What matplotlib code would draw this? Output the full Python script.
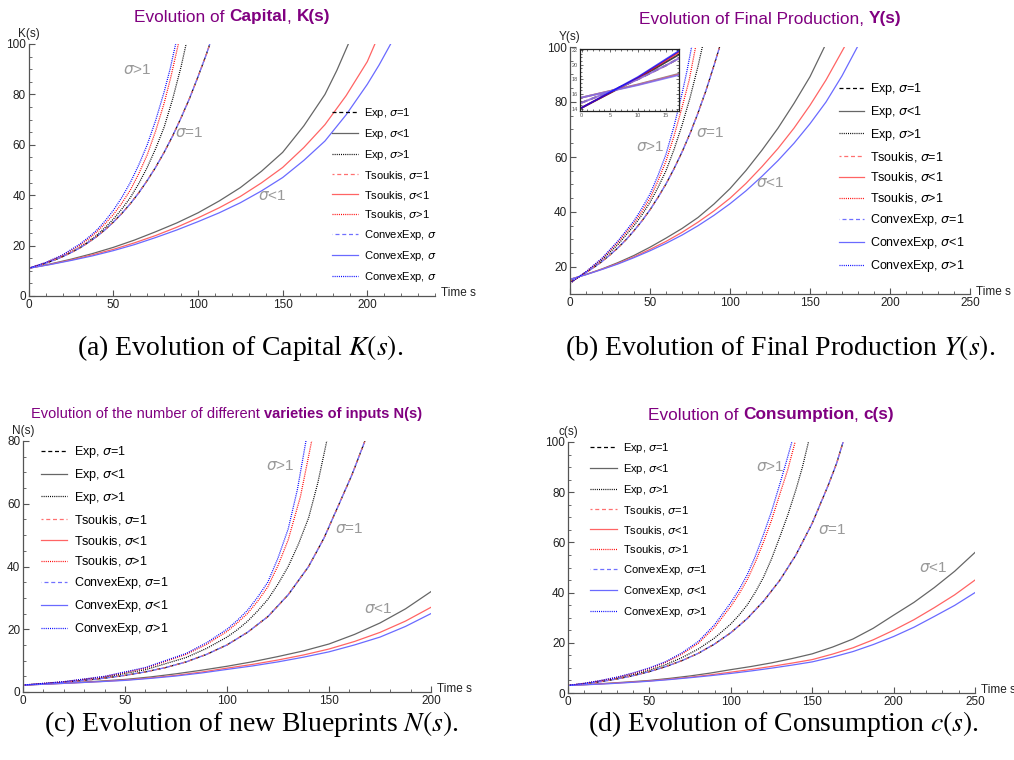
import numpy as np
import matplotlib.pyplot as plt
from matplotlib.ticker import MultipleLocator

plt.rcParams['font.family'] = ['Liberation Sans', 'DejaVu Sans']
plt.rcParams['mathtext.fontset'] = 'dejavusans'

# ---------------- data ----------------
# (a) Capital K(s)
a_s_eq = [0, 5, 10, 15, 20, 25, 30, 35, 40, 45, 50, 55, 60, 65, 70, 75, 80, 85, 90, 95, 100, 105, 107]
a_eq = [11, 11.96, 13, 14.24, 15.6, 17.22, 19, 21.13, 23.5, 26.24, 29.3, 32.75, 36.6, 40.94,
        45.8, 51.1, 57, 63.5, 70.7, 78.4, 87, 96, 100]
a_s_hi_exp = [0, 10, 20, 30, 35, 40, 45, 50, 55, 60, 65, 70, 75, 80, 85, 90, 93]
a_hi_exp = [11, 13, 15.6, 19.2, 21.5, 24, 27.1, 30.5, 34.5, 39, 44.6, 51, 58.5, 67, 78.1, 91, 100]
a_s_hi_tsk = [0, 10, 20, 30, 35, 40, 45, 50, 55, 60, 65, 70, 75, 80, 84, 88.4]
a_hi_tsk = [11, 13.2, 16.1, 20, 22.5, 25.3, 28.6, 32.3, 36.8, 42, 48.5, 56, 65.5, 76.5, 87, 100]
a_s_hi_cvx = [0, 10, 20, 30, 35, 40, 45, 50, 55, 60, 65, 70, 75, 80, 83.5, 86.8]
a_hi_cvx = [11, 13.3, 16.3, 20.5, 23.1, 26, 29.7, 34, 39.1, 45, 52, 60, 69.7, 81, 90, 100]
a_s_lo_exp = [0, 12.5, 25, 37.5, 50, 62.5, 75, 87.5, 100, 112.5, 125, 137.5, 150, 162.5, 175, 182, 188.8]
a_lo_exp = [11, 12.67, 14.6, 16.8, 19.3, 22.2, 25.5, 29, 33, 37.7, 43, 49.5, 57, 67.5, 80, 89.5, 100]
a_s_lo_tsk = [0, 12.5, 25, 37.5, 50, 62.5, 75, 87.5, 100, 112.5, 125, 137.5, 150, 162.5, 175,
              187.5, 200, 204.5]
a_lo_tsk = [11, 12.54, 14.3, 16.3, 18.5, 21.1, 24, 27.3, 31, 35, 39.5, 44.9, 51, 58.9, 68, 79.5, 93, 100]
a_s_lo_cvx = [0, 12.5, 25, 37.5, 50, 62.5, 75, 87.5, 100, 112.5, 125, 137.5, 150, 162.5, 175,
              187.5, 200, 207, 213.8]
a_lo_cvx = [11, 12.45, 14.1, 15.9, 18, 20.4, 23.2, 26.2, 29.5, 33, 37, 41.7, 47, 53.8, 61.5, 71.9,
            84, 91.7, 100]

# (b) Final production Y(s)
b_s_eq = [0, 5, 10, 15, 20, 25, 30, 35, 40, 45, 50, 55, 60, 65, 70, 75, 80, 85, 90, 93.5]
b_eq = [14.8, 16.3, 18, 19.9, 22, 24.4, 27, 29.9, 33.2, 36.8, 40.8, 45.3, 50.2, 55.7, 61.8, 68.5,
        76, 84.2, 93.3, 100]
b_s_hi_exp = [0, 10, 20, 30, 40, 45, 50, 55, 60, 65, 70, 75, 80, 82.7]
b_hi_exp = [14.1, 18.1, 22.6, 28.2, 35, 39, 43.5, 48.9, 55, 62.7, 71.5, 81.5, 93, 100]
b_s_hi_tsk = [0, 10, 20, 30, 40, 45, 50, 55, 60, 65, 70, 74.5, 78.5]
b_hi_tsk = [14.1, 18.2, 23, 29, 36, 40.2, 45, 51.3, 58.5, 67.6, 78, 88, 100]
b_s_hi_cvx = [0, 10, 20, 30, 40, 45, 50, 55, 60, 65, 70, 73, 76]
b_hi_cvx = [14.1, 18.3, 23.2, 29.5, 36.8, 41.4, 46.5, 53.3, 61, 71.2, 83, 91, 100]
b_s_lo_exp = [0, 10, 20, 30, 40, 50, 60, 70, 80, 90, 100, 110, 120, 130, 140, 150, 159]
b_lo_exp = [15.5, 17.3, 19.3, 21.6, 24.2, 27.2, 30.5, 34, 38, 42.9, 48.5, 55.1, 62.5, 70.5, 79.5,
            89.2, 100]
b_s_lo_tsk = [0, 10, 20, 30, 40, 50, 60, 70, 80, 90, 100, 110, 120, 130, 140, 150, 160, 171.5]
b_lo_tsk = [15.5, 17.25, 19.2, 21.3, 23.7, 26.4, 29.3, 32.6, 36.3, 40.4, 45, 50.4, 56.5, 63.1,
            70.5, 78.8, 88, 100]
b_s_lo_cvx = [0, 10, 20, 30, 40, 50, 60, 70, 80, 90, 100, 110, 120, 130, 140, 150, 160, 170, 179.6]
b_lo_cvx = [15.5, 17.2, 19.1, 21.1, 23.4, 25.9, 28.6, 31.6, 35, 38.8, 43, 47.7, 53, 58.7, 65,
            72.1, 80, 89.5, 100]

# (c) Varieties of inputs N(s)
c_s_eq = [0, 10, 20, 30, 40, 50, 60, 70, 80, 90, 100, 110, 120, 130, 140, 147.5, 155, 161.3, 167.6]
c_eq = [2.2, 2.6, 3.1, 3.7, 4.4, 5.3, 6.4, 7.8, 9.6, 12, 15, 19, 24, 31, 40, 49, 60, 69.3, 80]
c_s_hi_exp = [0, 20, 40, 60, 80, 90, 100, 105, 110, 115, 120, 125, 130, 135, 140, 144.5, 148.9]
c_hi_exp = [2.2, 3.2, 4.7, 7.1, 11, 13.9, 17.5, 19.8, 22.5, 25.8, 29.5, 34.4, 40, 47.1, 55.5, 66.6, 80]
c_s_hi_tsk = [0, 20, 40, 60, 80, 90, 100, 105, 110, 115, 120, 125, 130, 136, 141.5]
c_hi_tsk = [2.2, 3.25, 4.9, 7.6, 12, 15.2, 19.3, 22, 25, 28.9, 33.5, 40.3, 48.5, 62.3, 80]
c_s_hi_cvx = [0, 20, 40, 60, 80, 90, 100, 105, 110, 115, 120, 125, 130, 134.5, 138.7]
c_hi_cvx = [2.2, 3.3, 5, 7.8, 12.3, 15.7, 20, 22.8, 26, 30.2, 35, 42.7, 52, 64.5, 80]
c_s_lo = [0, 12.5, 25, 37.5, 50, 62.5, 75, 87.5, 100, 112.5, 125, 137.5, 150, 162.5, 175, 187.5, 200]
c_lo_exp = [2.2, 2.57, 3.0, 3.46, 4.0, 4.8, 5.8, 6.94, 8.2, 9.64, 11.3, 13.1, 15.3, 18.35, 22, 26.5, 32]
c_lo_tsk = [2.2, 2.53, 2.9, 3.32, 3.8, 4.49, 5.3, 6.35, 7.6, 8.8, 10.2, 11.8, 13.7, 16.1, 19, 22.6, 27]
c_lo_cvx = [2.2, 2.53, 2.9, 3.28, 3.7, 4.34, 5.1, 6.06, 7.2, 8.31, 9.6, 11.1, 12.8, 15, 17.5, 20.9, 25]

# (d) Consumption c(s)
d_s_eq = [0, 10, 20, 30, 40, 50, 60, 70, 80, 90, 100, 110, 120, 130, 140, 150, 160, 165, 169]
d_eq = [3, 3.67, 4.5, 5.57, 6.9, 8.51, 10.5, 12.9, 15.8, 19.5, 24, 29.6, 36.5, 44.8, 55, 67.6,
        83, 91.5, 100]
d_s_hi_exp = [0, 10, 20, 30, 40, 50, 60, 70, 80, 90, 100, 105, 110, 115, 120, 125, 130, 135,
              140, 144, 147.7]
d_hi_exp = [3, 3.75, 4.7, 5.86, 7.3, 9.08, 11.3, 14.1, 17.5, 21.9, 27.5, 31, 35, 40.1, 46, 53.4,
            62, 70.9, 81, 90, 100]
d_s_hi_tsk = [0, 10, 20, 30, 40, 50, 60, 70, 80, 90, 100, 105, 110, 115, 120, 125, 130, 135, 139.5]
d_hi_tsk = [3, 3.83, 4.9, 6.18, 7.8, 9.76, 12.2, 15.5, 19.8, 26.1, 34.5, 39.4, 45, 52, 60, 68.8,
            79, 89, 100]
d_s_hi_cvx = [0, 10, 20, 30, 40, 50, 60, 70, 80, 90, 100, 105, 110, 115, 120, 125, 130, 134, 137.5]
d_hi_cvx = [3, 3.87, 5, 6.32, 8, 10, 12.5, 16, 20.5, 27.2, 36, 41.1, 47, 54.4, 63, 72.3, 83,
            91.9, 100]
d_s_lo = [0, 12.5, 25, 37.5, 50, 62.5, 75, 87.5, 100, 112.5, 125, 137.5, 150, 162.5, 175, 187.5,
          200, 212.5, 225, 237.5, 250]
d_lo_exp = [3, 3.42, 3.9, 4.42, 5.0, 5.83, 6.8, 7.95, 9.3, 10.56, 12, 13.7, 15.6, 18.3, 21.5,
            25.8, 31, 36.1, 42, 48.5, 56]
d_lo_tsk = [3, 3.38, 3.8, 4.27, 4.8, 5.5, 6.3, 7.23, 8.3, 9.38, 10.6, 11.9, 13.3, 15.5, 18, 21.2,
            25, 29.2, 34, 39.1, 45]
d_lo_cvx = [3, 3.33, 3.7, 4.17, 4.7, 5.35, 6.1, 6.9, 7.8, 8.79, 9.9, 11.1, 12.4, 14.3, 16.5,
            19.3, 22.5, 26.2, 30.5, 34.9, 40]

models = ['exp', 'tsk', 'cvx']
model_names = ['Exp', 'Tsoukis', 'ConvexExp']
sigmas = ['eq', 'lo', 'hi']
sigma_txt = {'eq': r'$\sigma$=1', 'lo': r'$\sigma$<1', 'hi': r'$\sigma$>1'}

# ---------------- styles ----------------
dash = (0, (3.2, 2.2))
dot = (0, (0.8, 0.9))
STYLE = {
    ('exp', 'eq'): ('black', dash),
    ('exp', 'lo'): ('#666666', '-'),
    ('exp', 'hi'): ('black', dot),
    ('tsk', 'eq'): ('#ff7070', (1.6, (3.2, 2.2))),
    ('tsk', 'lo'): ('#ff6464', '-'),
    ('tsk', 'hi'): ('#ff0000', dot),
    ('cvx', 'eq'): ('#7070ff', (3.0, (3.2, 2.2))),
    ('cvx', 'lo'): ('#6a6aff', '-'),
    ('cvx', 'hi'): ('#0000ff', dot),
}
PURPLE = '#800080'
W, H = 1014, 760

fig = plt.figure(figsize=(W / 100, H / 100), dpi=100)


def axes_px(left, top, right, bottom):
    return fig.add_axes([left / W, 1 - bottom / H, (right - left) / W, (bottom - top) / H])


def draw_curves(ax, series, lw=0.9, trunc=False, inset=False):
    handles, labs = [], []
    for m, mname in zip(models, model_names):
        for sg in sigmas:
            s, y = series[(m, sg)]
            col, ls = STYLE[(m, sg)]
            if inset:
                # thick inset lines: dots merge into solid strokes
                ls = dash if (m == 'exp' and sg == 'eq') else '-'
                h, = ax.plot(s, y, color=col, ls=ls, lw=lw, alpha=0.75)
            else:
                h, = ax.plot(s, y, color=col, ls=ls, lw=lw)
            handles.append(h)
            if trunc and m == 'cvx':
                labs.append(mname + r', $\sigma$')
            else:
                labs.append(mname + ', ' + sigma_txt[sg])
    return handles, labs


def frame(ax, xmax, ymin, ymax, ylab):
    ax.set_xlim(0, xmax)
    ax.set_ylim(ymin, ymax)
    for sp in ('top', 'right'):
        ax.spines[sp].set_visible(False)
    for sp in ('left', 'bottom'):
        ax.spines[sp].set_color('#555555')
        ax.spines[sp].set_linewidth(0.9)
    ax.xaxis.set_major_locator(MultipleLocator(50))
    ax.xaxis.set_minor_locator(MultipleLocator(10))
    ax.yaxis.set_major_locator(MultipleLocator(20))
    ax.yaxis.set_minor_locator(MultipleLocator(5))
    ax.tick_params(which='major', direction='in', length=4.5, width=0.8,
                   color='#555555', labelsize=8.5, labelcolor='#222222', pad=2)
    ax.tick_params(which='minor', direction='in', length=2.5, width=0.6, color='#555555')
    ax.patch.set_alpha(0)
    ax.text(0, 1.04, ylab, transform=ax.transAxes, ha='center', va='center',
            fontsize=8.5, color='#222222')
    ax.text(1.015, 0.01, 'Time s', transform=ax.transAxes, ha='left', va='center',
            fontsize=8.5, color='#222222')


def legend(ax, handles, labs, x, y, fs, hl, ls):
    ax.legend(handles, labs, loc='upper left', bbox_to_anchor=(x / W, 1 - y / H),
              bbox_transform=fig.transFigure, frameon=False, fontsize=fs,
              handlelength=hl, handletextpad=0.55, labelspacing=ls,
              borderpad=0, borderaxespad=0)


def rich_title(cx, cy, parts, size):
    r = fig.canvas.get_renderer()
    texts, widths = [], []
    for txt, wt in parts:
        t = fig.text(0, 0, txt, fontsize=size, fontweight=wt, color=PURPLE,
                     ha='left', va='center')
        texts.append(t)
        widths.append(t.get_window_extent(r).width)
    x = cx - sum(widths) / 2
    for t, wd in zip(texts, widths):
        t.set_position((x / W, 1 - cy / H))
        x += wd


def sig_note(ax, x, y, txt):
    ax.text(x, y, txt, color='#999999', fontsize=11, ha='center', va='center')


def caption(cx, cy, txt):
    fig.text(cx / W, 1 - cy / H, txt, fontsize=20, ha='center', va='center',
             family=['Liberation Serif', 'DejaVu Serif'], math_fontfamily='stix')


# ---------------- (a) ----------------
ser_a = {
    ('exp', 'eq'): (a_s_eq, a_eq), ('tsk', 'eq'): (a_s_eq, a_eq), ('cvx', 'eq'): (a_s_eq, a_eq),
    ('exp', 'lo'): (a_s_lo_exp, a_lo_exp), ('tsk', 'lo'): (a_s_lo_tsk, a_lo_tsk),
    ('cvx', 'lo'): (a_s_lo_cvx, a_lo_cvx),
    ('exp', 'hi'): (a_s_hi_exp, a_hi_exp), ('tsk', 'hi'): (a_s_hi_tsk, a_hi_tsk),
    ('cvx', 'hi'): (a_s_hi_cvx, a_hi_cvx),
}
axa = axes_px(28.7, 44, 435, 296)
h, l = draw_curves(axa, ser_a, trunc=True)
frame(axa, 240, 0, 100, 'K(s)')
legend(axa, h, l, 331.5, 106, 8, 2.35, 0.62)
sig_note(axa, 64, 89.7, r'$\sigma$>1')
sig_note(axa, 95, 64.7, r'$\sigma$=1')
sig_note(axa, 143.7, 39.7, r'$\sigma$<1')
rich_title(232, 17, [('Evolution of ', 'normal'), ('Capital', 'bold'),
                     (', ', 'normal'), ('K(s)', 'bold')], 12.4)
caption(240, 348, r'(a) Evolution of Capital $K(s)$.')

# ---------------- (b) ----------------
ser_b = {
    ('exp', 'eq'): (b_s_eq, b_eq), ('tsk', 'eq'): (b_s_eq, b_eq), ('cvx', 'eq'): (b_s_eq, b_eq),
    ('exp', 'lo'): (b_s_lo_exp, b_lo_exp), ('tsk', 'lo'): (b_s_lo_tsk, b_lo_tsk),
    ('cvx', 'lo'): (b_s_lo_cvx, b_lo_cvx),
    ('exp', 'hi'): (b_s_hi_exp, b_hi_exp), ('tsk', 'hi'): (b_s_hi_tsk, b_hi_tsk),
    ('cvx', 'hi'): (b_s_hi_cvx, b_hi_cvx),
}
axb = axes_px(570, 47, 970, 294.5)
h, l = draw_curves(axb, ser_b)
frame(axb, 250, 10, 100, 'Y(s)')
legend(axb, h, l, 838.5, 81, 9, 2.0, 0.55)
sig_note(axb, 50, 63.6, r'$\sigma$>1')
sig_note(axb, 87.5, 68.7, r'$\sigma$=1')
sig_note(axb, 125, 50.5, r'$\sigma$<1')
rich_title(770, 19, [('Evolution of Final Production, ', 'normal'), ('Y(s)', 'bold')], 12.4)
caption(780, 348, r'(b) Evolution of Final Production $Y(s)$.')

# inset of (b)
axi = axes_px(580, 49.3, 679, 110.7)
draw_curves(axi, ser_b, lw=1.3, inset=True)
axi.set_xlim(-0.3, 17.3)
axi.set_ylim(13.7, 22.1)
axi.xaxis.set_major_locator(MultipleLocator(5))
axi.xaxis.set_minor_locator(MultipleLocator(1))
axi.yaxis.set_major_locator(MultipleLocator(2))
axi.yaxis.set_minor_locator(MultipleLocator(0.5))
axi.tick_params(which='both', direction='in', top=True, right=True, color='#333333',
                labelsize=4, labelcolor='#555555', pad=1.5, width=0.5)
axi.tick_params(which='major', length=2.5)
axi.tick_params(which='minor', length=1.2)
for sp in axi.spines.values():
    sp.set_linewidth(0.9)
    sp.set_color('#222222')

# ---------------- (c) ----------------
ser_c = {
    ('exp', 'eq'): (c_s_eq, c_eq), ('tsk', 'eq'): (c_s_eq, c_eq), ('cvx', 'eq'): (c_s_eq, c_eq),
    ('exp', 'lo'): (c_s_lo, c_lo_exp), ('tsk', 'lo'): (c_s_lo, c_lo_tsk),
    ('cvx', 'lo'): (c_s_lo, c_lo_cvx),
    ('exp', 'hi'): (c_s_hi_exp, c_hi_exp), ('tsk', 'hi'): (c_s_hi_tsk, c_hi_tsk),
    ('cvx', 'hi'): (c_s_hi_cvx, c_hi_cvx),
}
axc = axes_px(23, 441, 431, 692)
h, l = draw_curves(axc, ser_c)
frame(axc, 200, 0, 80, 'N(s)')
legend(axc, h, l, 40.5, 444, 9, 2.1, 0.55)
sig_note(axc, 126, 72, r'$\sigma$>1')
sig_note(axc, 160, 52, r'$\sigma$=1')
sig_note(axc, 174, 26.4, r'$\sigma$<1')
rich_title(227, 414, [('Evolution of the number of different ', 'normal'),
                      ('varieties of inputs N(s)', 'bold')], 10.5)
caption(251, 724, r'(c) Evolution of new Blueprints $N(s)$.')

# ---------------- (d) ----------------
ser_d = {
    ('exp', 'eq'): (d_s_eq, d_eq), ('tsk', 'eq'): (d_s_eq, d_eq), ('cvx', 'eq'): (d_s_eq, d_eq),
    ('exp', 'lo'): (d_s_lo, d_lo_exp), ('tsk', 'lo'): (d_s_lo, d_lo_tsk),
    ('cvx', 'lo'): (d_s_lo, d_lo_cvx),
    ('exp', 'hi'): (d_s_hi_exp, d_hi_exp), ('tsk', 'hi'): (d_s_hi_tsk, d_hi_tsk),
    ('cvx', 'hi'): (d_s_hi_cvx, d_hi_cvx),
}
axd = axes_px(568, 442, 975, 693)
h, l = draw_curves(axd, ser_d)
frame(axd, 250, 0, 100, 'c(s)')
legend(axd, h, l, 590, 441, 8, 2.4, 0.62)
sig_note(axd, 124, 90, r'$\sigma$>1')
sig_note(axd, 162, 65, r'$\sigma$=1')
sig_note(axd, 224.6, 50, r'$\sigma$<1')
rich_title(771, 415, [('Evolution of ', 'normal'), ('Consumption', 'bold'),
                      (', ', 'normal'), ('c(s)', 'bold')], 12.4)
caption(783, 724, r'(d) Evolution of Consumption $c(s)$.')

fig.savefig('out.png', dpi=100)
